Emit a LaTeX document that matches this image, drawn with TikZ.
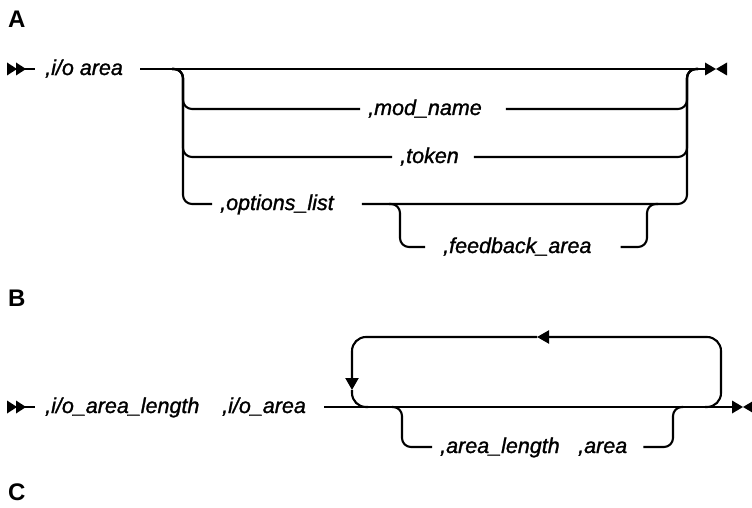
\documentclass[tikz,border=0pt]{standalone}
\usepackage{fontspec}
\setmainfont{Liberation Sans}
\usetikzlibrary{arrows.meta}
\tikzset{
  rail/.style={line width=2.1pt, rounded corners=9pt},
  backrail/.style={rail, rounded corners=14pt},
  rtip/.style={-{Triangle[length=12pt, width=13pt]}},
  kw/.style={font=\fontsize{21.5}{25}\selectfont\itshape\addfontfeatures{FakeBold=1.2},
    inner sep=0pt, text height=14pt, text depth=2pt, anchor=west},
  sect/.style={font=\fontsize{24}{28}\selectfont\bfseries, inner sep=0pt,
    anchor=base west},
  startmark/.pic={\fill (0,-6.5) -- (10,0) -- (0,6.5) -- cycle
                        (9,-6.5) -- (19,0) -- (9,6.5) -- cycle;},
  endmark/.pic={\fill (0,-6.5) -- (11,0) -- (0,6.5) -- cycle
                      (22,-6.5) -- (11,0) -- (22,6.5) -- cycle;},
}

\begin{document}
\begin{tikzpicture}[x=1pt, y=-1pt]
  \useasboundingbox (0,0) rectangle (752,508);

  % Section A
  \node[sect] (secA) at (8,28) {A};
  \pic (stA) at (7,69) {startmark};
  \pic (enA) at (705,69) {endmark};
  \coordinate (aS) at (25,69);
  \coordinate (aE) at (705,69);
  \coordinate (aL) at (183,69);
  \coordinate (aR) at (687,69);
  \coordinate (oL) at (400,204);
  \coordinate (oR) at (647,204);

  \node[kw] (ioarea) at (45,69) {,i/o area};
  \node[kw] (modname) at (368,109) {,mod\_name};
  \node[kw] (token) at (400,157) {,token};
  \node[kw] (optlist) at (220,204) {,options\_list};
  \node[kw] (feedback) at (443,247) {,feedback\_area};

  % main line
  \draw[rail] (aS) -- ([xshift=-10pt]ioarea.west);
  \draw[rail] ([xshift=17pt]ioarea.east) -- (aE);

  % choices
  \draw[rail] ([xshift=-11pt]aL) -- (aL) |- ([xshift=-8pt]modname.west);
  \draw[rail] ([xshift=24pt]modname.east) -| (aR) -- ([xshift=11pt]aR);
  \draw[rail] ([xshift=-11pt]aL) -- (aL) |- ([xshift=-8pt]token.west);
  \draw[rail] ([xshift=15pt]token.east) -| (aR) -- ([xshift=11pt]aR);
  \draw[rail] ([xshift=-11pt]aL) -- (aL) |- ([xshift=-8pt]optlist.west);
  \draw[rail] ([xshift=28pt]optlist.east) -| (aR) -- ([xshift=11pt]aR);

  % optional feedback
  \draw[rail] ([xshift=-11pt]oL) -- (oL) |- ([xshift=-18pt]feedback.west);
  \draw[rail] ([xshift=29pt]feedback.east) -| (oR) -- ([xshift=11pt]oR);

  % Section B
  \node[sect] (secB) at (8,306) {B};
  \pic (stB) at (7,407) {startmark};
  \pic (enB) at (732,407) {endmark};
  \coordinate (bS) at (25,407);
  \coordinate (bE) at (732,407);
  \coordinate (bL) at (352,407);
  \coordinate (bR) at (721,407);
  \coordinate (bTop) at (537,337);
  \coordinate (sL) at (402,407);
  \coordinate (sR) at (673,407);

  \node[kw] (iolen) at (45,407) {,i/o\_area\_length};
  \node[kw] (ioar) at (222,407) {,i/o\_area};
  \node[kw] (arlen) at (440,447) {,area\_length};
  \node[kw] (ar) at (578,447) {,area};

  \draw[rail] (bS) -- ([xshift=-10pt]iolen.west);
  \draw[rail] ([xshift=18pt]ioar.east) -- (bE);

  % repeat loop
  \draw[backrail, rtip] ([xshift=-16pt]bR) -- (bR) |- (bTop);
  \draw[backrail, rtip] (bTop) -| ([yshift=17pt]bL);
  \draw[backrail] ([yshift=17pt]bL) -- (bL) -- ([xshift=16pt]bL);

  % optional pair
  \draw[rail] ([xshift=-10pt]sL) -- (sL) |- ([xshift=-8pt]arlen.west);
  \draw[rail] ([xshift=16pt]ar.east) -| (sR) -- ([xshift=10pt]sR);

  % Section C
  \node[sect] (secC) at (8,500) {C};
\end{tikzpicture}
\end{document}
